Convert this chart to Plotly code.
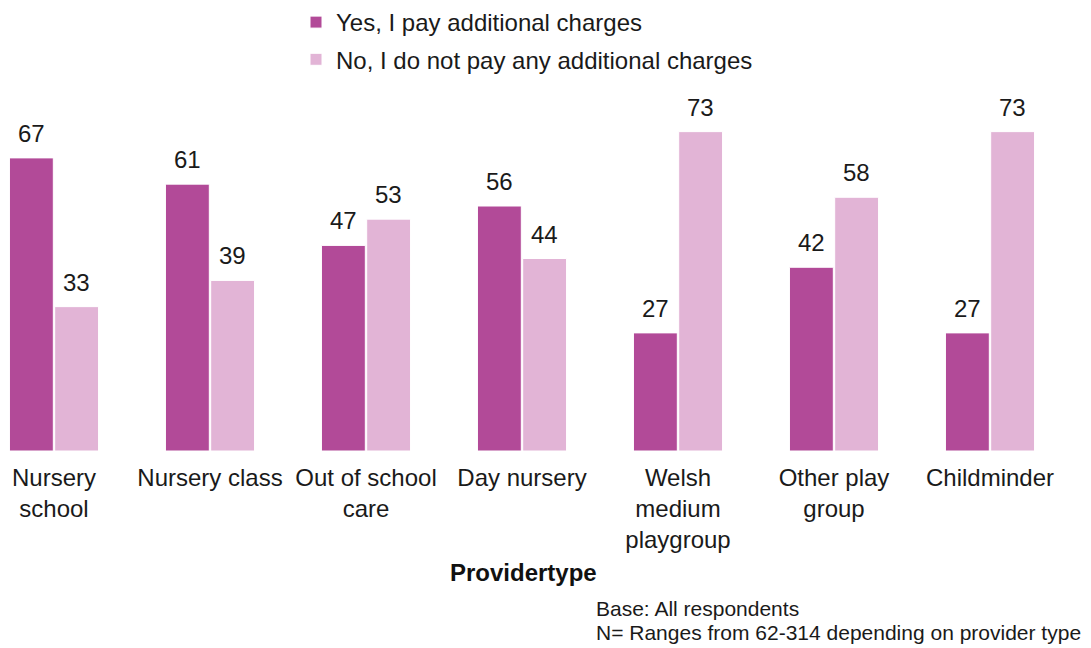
import plotly.graph_objects as go

categories = ["Nursery<br>school", "Nursery class", "Out of school<br>care", "Day nursery",
              "Welsh<br>medium<br>playgroup", "Other play<br>group", "Childminder"]
yes_pay = [67, 61, 47, 56, 27, 42, 27]
no_pay = [33, 39, 53, 44, 73, 58, 73]
series_names = ["Yes, I pay additional charges", "No, I do not pay any additional charges"]
colors = ["#B24A98", "#E2B4D6"]
footnotes = ["Base: All respondents", "N= Ranges from 62-314 depending on provider type"]

FONT = "Liberation Sans, Arial, sans-serif"
TXT = "#1a1a1a"
BARGAP = 0.42
x_idx = list(range(len(categories)))

fig = go.Figure()
for k, (name, vals, col) in enumerate(zip(series_names, [yes_pay, no_pay], colors)):
    fig.add_trace(go.Bar(
        x=x_idx, y=vals, name=name, legendgroup=f"g{k}",
        marker=dict(color=col, line=dict(color="white", width=1)),
    ))

# value labels above each bar
slot = (1 - BARGAP) / 2
for k, vals in enumerate([yes_pay, no_pay]):
    off = (k - 0.5) * slot
    for i, v in enumerate(vals):
        fig.add_annotation(x=i + off, y=v, text=str(v), showarrow=False,
                           yanchor="bottom", yshift=9,
                           font=dict(family=FONT, size=24, color=TXT))

fig.add_annotation(xref="paper", yref="paper", x=523 / 1091, y=-0.39,
                   text="<b>Providertype</b>", showarrow=False,
                   font=dict(family=FONT, size=24, color="#111111"))
for j, line in enumerate(footnotes):
    fig.add_annotation(xref="paper", yref="paper", x=594 / 1091, y=-0.45 - j * 0.0685,
                       xanchor="left", yanchor="middle", align="left",
                       text=line, showarrow=False,
                       font=dict(family=FONT, size=21, color=TXT))

fig.update_layout(
    width=1091, height=648,
    margin=dict(l=0, r=0, t=100, b=197),
    plot_bgcolor="white", paper_bgcolor="white",
    barmode="group", bargap=BARGAP, bargroupgap=0.03,
    font=dict(family=FONT, size=24, color=TXT),
    showlegend=True,
    legend=dict(x=296 / 1091, y=1.29, xanchor="left", yanchor="top",
                orientation="v", font=dict(family=FONT, size=24, color=TXT),
                tracegroupgap=3, itemwidth=30, bgcolor="rgba(0,0,0,0)"),
    xaxis=dict(tickmode="array", tickvals=x_idx, ticktext=categories,
               range=[-54 / 156, (1091 - 54) / 156], showline=False, ticks="",
               showgrid=False, zeroline=False, ticklabelstandoff=10,
               tickfont=dict(family=FONT, size=24, color=TXT)),
    yaxis=dict(range=[0, 80], visible=False, showgrid=False, zeroline=False),
)

fig.write_html("out.html")
